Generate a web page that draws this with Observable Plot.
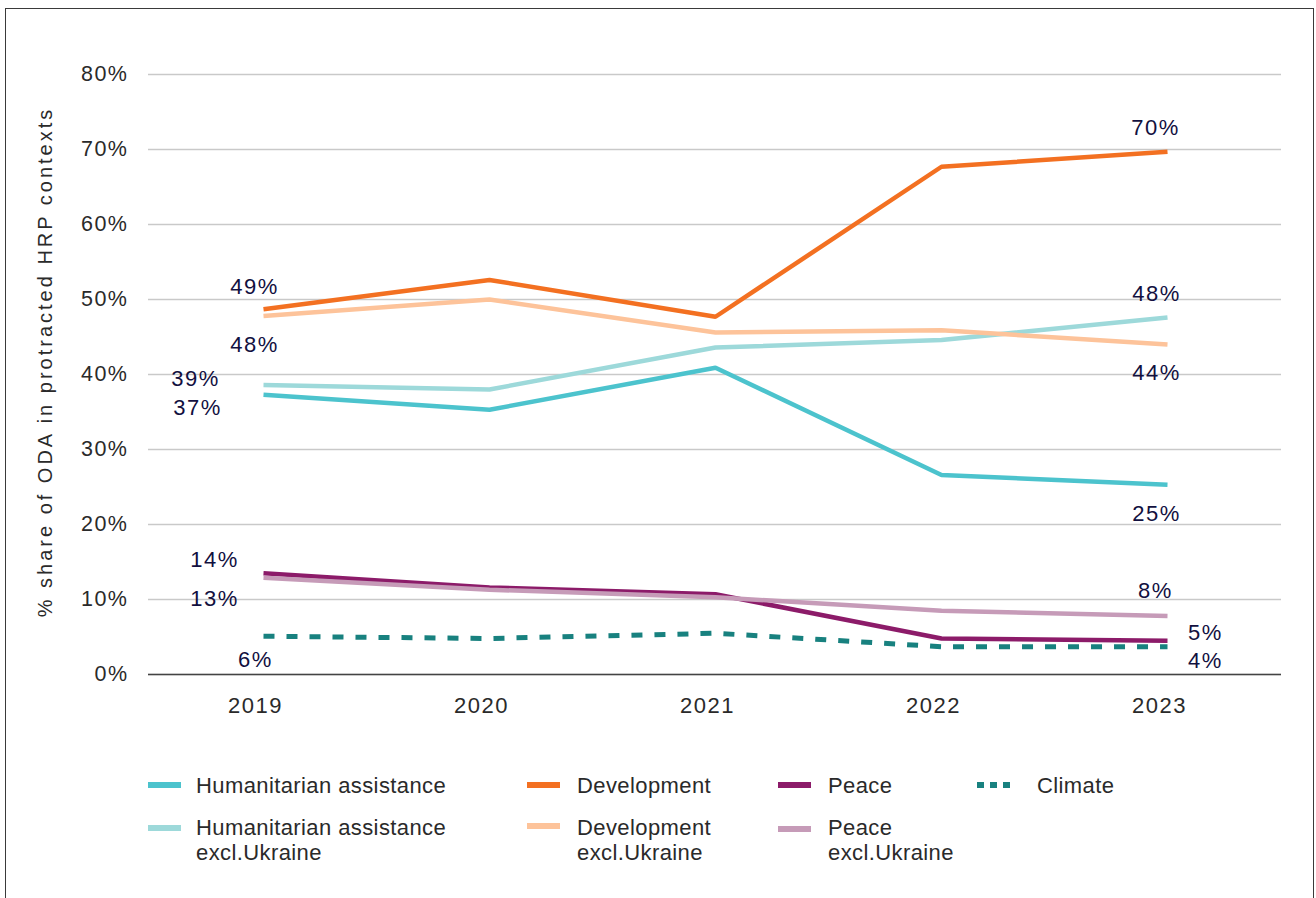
<!DOCTYPE html>
<html>
<head>
<meta charset="utf-8">
<script src="https://cdn.jsdelivr.net/npm/d3@7"></script>
<script src="https://cdn.jsdelivr.net/npm/@observablehq/plot@0.6"></script>
<style>
  html, body { margin: 0; padding: 0; background: #fff; }
  body { width: 1316px; height: 898px; position: relative; overflow: hidden; font-family: "Liberation Sans", Arial, sans-serif; }
  #frame { position: absolute; left: 5px; top: 8px; width: 1309px; height: 905px; border: 1.5px solid #3a3a3a; box-sizing: border-box; }
  #chart { position: absolute; left: 0; top: 0; }
  #chart svg g[aria-label="text"] text { letter-spacing: 1.5px; }
  #chart svg g[aria-label$="tick label"] text { letter-spacing: 1.5px; }
  .leg-text { position: absolute; font-size: 22px; line-height: 25px; color: #2a2a2a; letter-spacing: 0.4px; white-space: nowrap; }
  .leg-sw { position: absolute; }
</style>
</head>
<body>
<div id="frame"></div>
<div id="chart"></div>
<div id="legend"></div>
<script>
// ---------- data ----------
const years = [2019, 2020, 2021, 2022, 2023];
const seriesNames = [
  "Humanitarian assistance",
  "Humanitarian assistance excl.Ukraine",
  "Development",
  "Development excl.Ukraine",
  "Peace",
  "Peace excl.Ukraine",
  "Climate"
];
const humanitarian     = [37.3, 35.3, 40.9, 26.6, 25.3];
const humanitarianExcl = [38.6, 38.0, 43.6, 44.6, 47.6];
const development      = [48.7, 52.6, 47.7, 67.7, 69.7];
const developmentExcl  = [47.8, 50.0, 45.6, 45.9, 44.0];
const peace            = [13.5, 11.6, 10.7, 4.8, 4.5];
const peaceExcl        = [12.9, 11.3, 10.3, 8.5, 7.8];
const climate          = [5.1, 4.8, 5.5, 3.7, 3.7];
const labels2019 = ["37%", "39%", "49%", "48%", "14%", "13%", "6%"];
const labels2023 = ["25%", "48%", "70%", "44%", "5%", "8%", "4%"];
const yTicks = [0, 10, 20, 30, 40, 50, 60, 70, 80];
const yTitle = "% share of ODA in protracted HRP contexts";

// ---------- styles ----------
const seriesValues = [humanitarian, humanitarianExcl, development, developmentExcl, peace, peaceExcl, climate];
const colors = ["#4CC3CD", "#9DD9DA", "#F37021", "#FDC39A", "#8C1B69", "#C69BB8", "#18817F"];
const drawOrder = [0, 2, 4, 6, 1, 3, 5];
// label offsets (dx, dy) from the end points
const offs2019 = [[-66, 13], [-68, -6.5], [-9, -22], [-9, 28.5], [-49, -13], [-49, 21], [-8, 24]];
const offs2023 = [[-11, 29], [-11, -24], [-12, -24], [-11, 28], [38, -8], [-12, -25.5], [38, 14]];

const rows = seriesNames.flatMap((name, i) =>
  years.map((yr, j) => ({series: name, year: yr, value: seriesValues[i][j]})));

const lineMarks = drawOrder.map(i => Plot.line(rows.filter(d => d.series === seriesNames[i]), {
  x: "year", y: "value",
  stroke: colors[i],
  strokeWidth: i === 6 ? 5 : 4.5,
  strokeDasharray: i === 6 ? "11,12" : null,
  strokeLinecap: "butt",
  strokeLinejoin: "miter"
}));

const labelMarks = [];
seriesNames.forEach((name, i) => {
  [[0, labels2019, offs2019], [4, labels2023, offs2023]].forEach(([j, texts, offs]) => {
    labelMarks.push(Plot.text([{year: years[j], value: seriesValues[i][j], t: texts[i]}], {
      x: "year", y: "value", text: "t",
      dx: offs[i][0], dy: offs[i][1],
      fill: "#12103F", fontSize: 22
    }));
  });
});

const svg = Plot.plot({
  width: 1316,
  height: 730,
  marginLeft: 148,
  marginRight: 35,
  marginTop: 74,
  marginBottom: 56,
  style: {fontFamily: "'Liberation Sans', Arial, sans-serif", color: "#2a2a2a", background: "transparent", overflow: "visible"},
  x: {type: "point", domain: years, padding: 0.5},
  y: {domain: [0, 80]},
  marks: [
    Plot.gridY(yTicks, {stroke: "#c9c9c9", strokeOpacity: 1, strokeWidth: 1.3}),
    Plot.ruleY([0], {stroke: "#444", strokeWidth: 1.6}),
    Plot.axisX({tickSize: 0, tickPadding: 23, fontSize: 22, dx: -8, tickFormat: d => `${d}`, label: null}),
    Plot.axisY(yTicks, {tickSize: 0, tickPadding: 20, fontSize: 21.5, tickFormat: d => `${d}%`, label: null}),
    ...lineMarks,
    ...labelMarks
  ]
});
document.getElementById("chart").appendChild(svg);

// y axis title
d3.select(svg).append("text")
  .attr("transform", "translate(45,362) rotate(-90)")
  .attr("text-anchor", "middle")
  .attr("dy", "0.35em")
  .attr("fill", "#2a2a2a")
  .style("font-size", "20px")
  .style("letter-spacing", "3px")
  .text(yTitle);

// ---------- legend ----------
// layout: [swatch x, swatch y, text x, text top]
const legendLayout = [
  [148, 785, 196, 772.5],
  [148, 828, 196, 814.5],
  [527, 785, 577, 772.5],
  [527, 826, 577, 814.5],
  [778, 785, 828, 772.5],
  [778, 829, 828, 814.5],
  [977, 785, 1037, 772.5]
];
const legend = document.getElementById("legend");
seriesNames.forEach((name, i) => {
  const [sx, sy, tx, ty] = legendLayout[i];
  const sw = document.createElementNS("http://www.w3.org/2000/svg", "svg");
  sw.setAttribute("class", "leg-sw");
  sw.setAttribute("width", 34);
  sw.setAttribute("height", 8);
  sw.style.left = sx + "px";
  sw.style.top = (sy - 4) + "px";
  const ln = document.createElementNS("http://www.w3.org/2000/svg", "line");
  ln.setAttribute("x1", 0); ln.setAttribute("x2", 33);
  ln.setAttribute("y1", 4); ln.setAttribute("y2", 4);
  ln.setAttribute("stroke", colors[i]);
  ln.setAttribute("stroke-width", 6);
  if (i === 6) ln.setAttribute("stroke-dasharray", "7,6");
  sw.appendChild(ln);
  legend.appendChild(sw);
  const tx0 = document.createElement("div");
  tx0.className = "leg-text";
  tx0.style.left = tx + "px";
  tx0.style.top = ty + "px";
  const parts = name.split(" excl.");
  tx0.innerHTML = parts.length > 1 ? `${parts[0]}<br>excl.${parts[1]}` : name;
  legend.appendChild(tx0);
});
</script>
</body>
</html>
